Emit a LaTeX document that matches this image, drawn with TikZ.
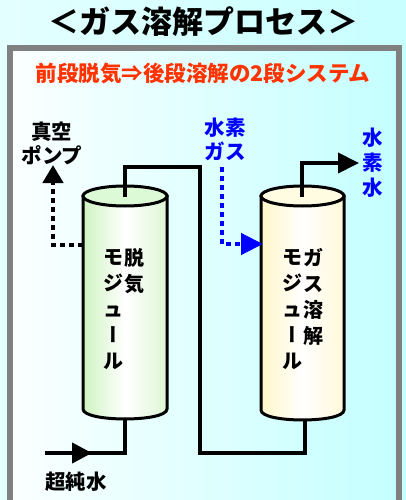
\documentclass[tikz,border=0pt]{standalone}
\usepackage{fontspec}
\setmainfont{Noto Sans CJK JP}
\usepackage{xcolor}
\usetikzlibrary{arrows.meta, positioning, calc}
\definecolor{skyleft}{HTML}{E4FFFF}
\definecolor{skyright}{HTML}{C8FFFF}
\definecolor{panelleft}{HTML}{FBFFFF}
\definecolor{panelright}{HTML}{C4FFFF}
\definecolor{framegray}{HTML}{808080}
\definecolor{headred}{HTML}{FF3300}
\definecolor{gasblue}{HTML}{0000FF}
\definecolor{degasside}{HTML}{CFF3C2}
\definecolor{degastop}{HTML}{DDFAD6}
\definecolor{dissolveside}{HTML}{FFF6C8}
\definecolor{dissolvetop}{HTML}{FFFCE2}

\begin{document}
\begin{tikzpicture}[x=1pt, y=-1pt,
    vessel/.style={line width=3pt, draw=black},
    pipe/.style={line width=4pt, draw=black},
    dotline/.style={line width=4.5pt, dash pattern=on 5pt off 4pt},
    label/.style={font=\bfseries\fontsize{20.5}{24}\selectfont, align=center, inner sep=0pt},
    incol/.style={font=\bfseries\fontsize{20}{26}\selectfont, align=center, inner sep=0pt},
    bigtip/.style={-{Triangle[length=#1, width=20pt]}}]
    \useasboundingbox (0,0) rectangle (406,500);
    \begin{scope}
        \clip (0,0) rectangle (406,500);
        % background and panel frame
        \shade[left color=skyleft, right color=skyright] (0,0) rectangle (406,500);
        \shade[left color=panelleft, right color=panelright] (10,48) rectangle (398.5,520);
        \draw[line width=6pt, framegray] (10,48) rectangle (398.5,520);
    \end{scope}

    % headings
    \node[font=\bfseries\fontsize{31}{33}\selectfont] (title) at (203.5,22) {＜ガス溶解プロセス＞};
    \node[font=\bfseries\fontsize{21.5}{23}\selectfont, text=headred] (subtitle) at (203,73)
        {前段脱気⇒後段溶解の2段システム};

    % degassing vessel
    \draw[vessel, left color=degasside, right color=degasside!70, middle color=white]
        (83,196) -- (83,409) .. controls (83,422.3) and (167,422.3) .. (167,409) -- (167,196) -- cycle;
    \draw[vessel, fill=degastop] (125,196) ellipse [x radius=42, y radius=10];
    \coordinate (degas top) at (125,197);
    \coordinate (degas bottom) at (125,418);
    \coordinate (degas side) at (83,245);
    \node[incol] (degas b) at (113,310)
        {モ\\ジ\\ュ\\{\addfontfeature{RawFeature=+vert}ー}\\ル};
    \node[incol] (degas a) at (134,271) {脱\\気};

    % dissolving vessel
    \draw[vessel, left color=dissolveside, right color=dissolveside!70, middle color=white]
        (261,196) -- (261,410) .. controls (261,423.3) and (344,423.3) .. (344,410) -- (344,196) -- cycle;
    \draw[vessel, fill=dissolvetop] (302.5,196) ellipse [x radius=41.5, y radius=10];
    \coordinate (dissolve top) at (302,197);
    \coordinate (dissolve bottom) at (305,419);
    \coordinate (dissolve side) at (263,244);
    \node[incol] (dissolve b) at (292,310)
        {モ\\ジ\\ュ\\{\addfontfeature{RawFeature=+vert}ー}\\ル};
    \node[incol] (dissolve a) at (313,297) {ガ\\ス\\溶\\解};

    % labels around the vessels
    \node[label] (pump) at (52,143) {真空\\ポンプ};
    \node[label, text=gasblue] (gas) at (225,139) {水素\\ガス};
    \node[label, text=gasblue, font=\bfseries\fontsize{20.5}{25}\selectfont] (product) at (373,163) {水\\素\\水};
    \node[label] (water) at (76,482) {超純水};
    \coordinate (pump inlet) at (53,165);
    \coordinate (gas outlet) at (222,167);
    \coordinate (product inlet) at (359,163);

    % water line
    \coordinate (feed) at (45,453);
    \coordinate (feed tip) at (92,453);
    \coordinate (riser top) at (200,167);
    \coordinate (riser bottom) at (200,453);
    \draw[pipe] (feed) -| (degas bottom);
    \draw[pipe, bigtip=20pt] (feed) -- (feed tip);
    \draw[pipe] (degas top) |- (riser top) -- (riser bottom) -| (dissolve bottom);
    \draw[pipe, bigtip=21pt] (dissolve top) |- (product inlet);

    % vacuum and hydrogen lines
    \draw[dotline, black, -{Triangle[length=18pt, width=20pt]}]
        (degas side) -| (pump inlet);
    \draw[dotline, gasblue, -{Triangle[length=22pt, width=21pt]}]
        (gas outlet) |- (dissolve side);
\end{tikzpicture}
\end{document}
